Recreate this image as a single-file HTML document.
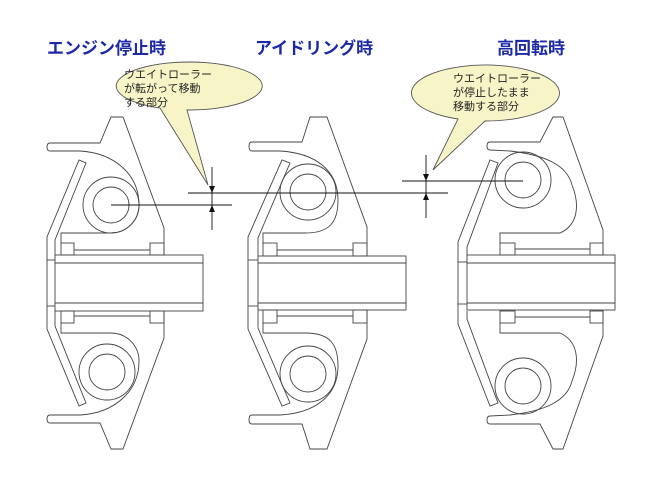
<!DOCTYPE html>
<html><head><meta charset="utf-8"><style>
html,body{margin:0;padding:0;background:#fff;}
svg{display:block;}
.t{font-family:"Liberation Sans","Noto Sans CJK JP",sans-serif;font-weight:bold;font-size:17px;fill:#1c2aa8;}
.b{font-family:"Liberation Sans","Noto Sans CJK JP",sans-serif;font-size:11px;fill:#222;}
</style></head><body>
<svg width="650" height="487" viewBox="0 0 650 487" xmlns="http://www.w3.org/2000/svg">
<rect width="650" height="487" fill="#fff"/>
<text class="t" x="47" y="54">エンジン停止時</text>
<text class="t" x="255" y="54">アイドリング時</text>
<text class="t" x="497" y="54">高回転時</text>

<g fill="none" stroke="#444" stroke-width="0.9">
<!-- Panel 1 top half -->
<g id="p1">
  <path d="M164,255 L164,228 L123,117 L111,117 L100,143 L50,143 Q47,143 47,147 Q47,151 50,151 L80,151 C115,153 139,175 139,205 A28,28 0 0 1 111,233 L61,233 L61,243"/>
  <path d="M47,283 L47,237 L79,160 L86,163 L55,240 L55,255"/>
  <rect x="61" y="243" width="13" height="12"/>
  <rect x="150" y="243" width="14" height="12"/>
  <line x1="74" y1="250" x2="150" y2="250"/>
  <line x1="47" y1="260" x2="55" y2="260"/>
</g>
<use href="#p1" transform="translate(0,566) scale(1,-1)"/>
<circle cx="111" cy="205" r="28"/><circle cx="111" cy="205" r="18"/>
<circle cx="107" cy="372" r="28"/><circle cx="107" cy="372" r="18"/>
<rect x="55" y="255" width="148" height="56"/>
<line x1="55" y1="263" x2="203" y2="263"/><line x1="55" y1="303" x2="203" y2="303"/>

<!-- Panel 2 -->
<g id="p2">
  <path d="M367,256 L367,227 L327,117 L310,117 L302,142 L252,142 Q249,142 249,146 Q249,151 252,151 L280,151 C315,153 338,170 338,200 C338,222 330,233 305,233 L263,233 L263,243"/>
  <path d="M248,283 L248,237 L282,160 L290,163 L258,238 L258,256"/>
  <rect x="263" y="243" width="14" height="13"/>
  <rect x="353" y="243" width="14" height="13"/>
  <line x1="277" y1="250" x2="353" y2="250"/>
  <line x1="248" y1="260" x2="258" y2="260"/>
</g>
<use href="#p2" transform="translate(0,566) scale(1,-1)"/>
<circle cx="308" cy="192" r="28"/><circle cx="308" cy="192" r="18"/>
<circle cx="308" cy="374" r="28"/><circle cx="308" cy="374" r="18"/>
<rect x="258" y="256" width="148" height="54"/>
<line x1="258" y1="263" x2="406" y2="263"/><line x1="258" y1="303" x2="406" y2="303"/>

<!-- Panel 3 -->
<g id="p3">
  <path d="M603,255 L603,230 L563,117 L553,117 L540,142 L490,142 Q487,142 487,146 Q487,150 490,150 L510,151 C545,155 567,165 572,185 C580,205 578,225 560,233 L500,233 L500,243"/>
  <path d="M458,283 L458,242 L490,160 L498,163 L467,247 L467,255"/>
  <rect x="500" y="243" width="15" height="12"/>
  <rect x="590" y="243" width="13" height="12"/>
  <line x1="515" y1="249" x2="590" y2="249"/>
  <line x1="458" y1="262" x2="467" y2="262"/>
</g>
<use href="#p3" transform="translate(0,566) scale(1,-1)"/>
<circle cx="523" cy="180" r="28"/><circle cx="523" cy="180" r="18"/>
<circle cx="523" cy="386" r="28"/><circle cx="523" cy="386" r="18"/>
<rect x="467" y="255" width="148" height="55"/>
<line x1="467" y1="263" x2="615" y2="263"/><line x1="467" y1="303" x2="615" y2="303"/>
</g>

<!-- dimension lines -->
<g stroke="#111" stroke-width="0.9" fill="none">
  <line x1="111" y1="205" x2="232" y2="205"/>
  <line x1="188" y1="193" x2="448" y2="193"/>
  <line x1="212" y1="167" x2="212" y2="230"/>
  <line x1="402" y1="181" x2="523" y2="181"/>
  <line x1="426" y1="155" x2="426" y2="218"/>
</g>
<g fill="#111">
  <path d="M209,186 L215,186 L212,193 Z"/>
  <path d="M209,212 L215,212 L212,205 Z"/>
  <path d="M423,174 L429,174 L426,181 Z"/>
  <path d="M423,200 L429,200 L426,193 Z"/>
</g>

<!-- callouts -->
<path d="M160,108 A73,24 0 1 1 187,110 L208,185 Z" fill="#f7f5c8" stroke="#555" stroke-width="0.9"/>
<text class="b" x="124" y="78">ウエイトローラー</text>
<text class="b" x="124" y="92">が転がって移動</text>
<text class="b" x="124" y="106">する部分</text>

<path d="M458,119 A74,28 0 1 1 485,121 L433,170 Z" fill="#f7f5c8" stroke="#555" stroke-width="0.9"/>
<text class="b" x="453" y="82">ウエイトローラー</text>
<text class="b" x="453" y="96">が停止したまま</text>
<text class="b" x="453" y="110">移動する部分</text>
</svg>
</body></html>
